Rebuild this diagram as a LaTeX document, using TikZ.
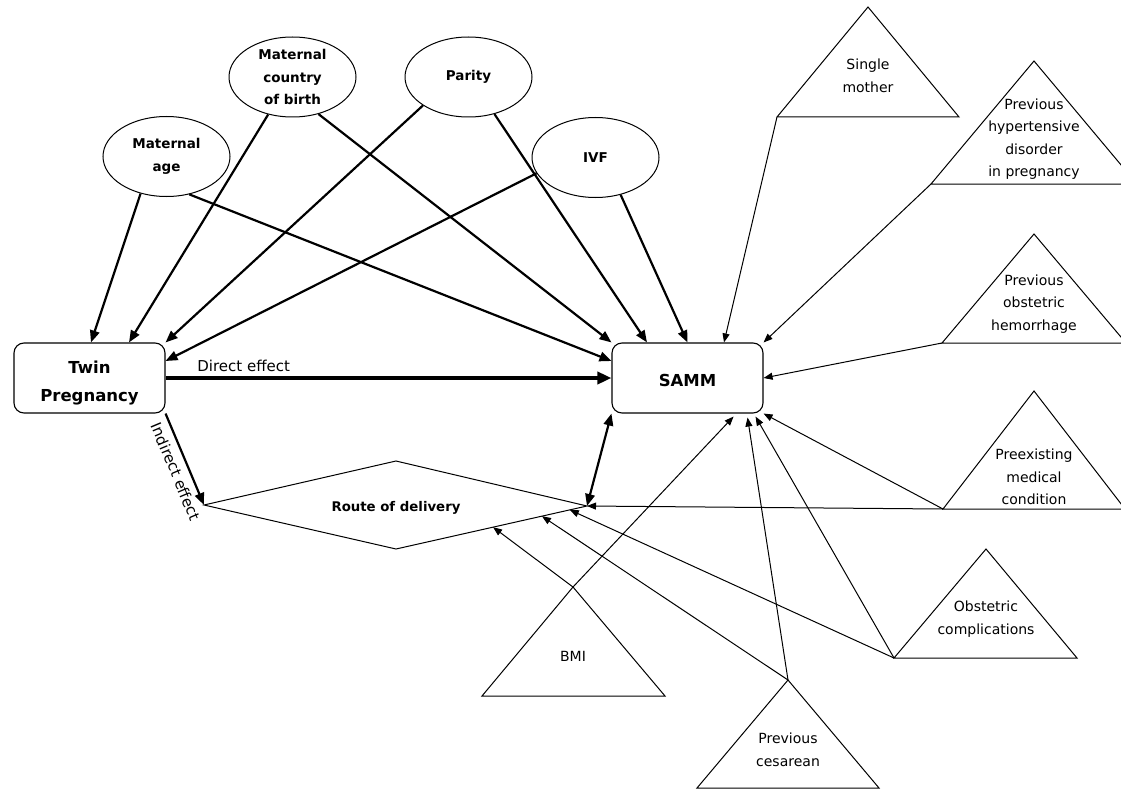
\documentclass[tikz,border=0pt]{standalone}
\usepackage{fontspec}
\setmainfont{DejaVu Sans}
\usetikzlibrary{shapes.geometric,arrows.meta,calc}
\begin{document}
\begin{tikzpicture}[x=1pt,y=-1pt,
  box/.style={draw, line width=1.1pt, rounded corners=10pt, minimum width=151pt, minimum height=70pt, inner sep=0pt},
  boxtext/.style={align=center, inner sep=0pt, font=\fontsize{16.5}{28}\selectfont\bfseries},
  ell/.style={draw, ellipse, line width=1pt, minimum width=127pt, minimum height=80pt, inner sep=0pt, align=center, font=\fontsize{13.5}{22.5}\selectfont\bfseries},
  tri/.style={draw, line width=1pt, line join=miter},
  tritext/.style={align=center, inner sep=0pt, font=\fontsize{14}{22.5}\selectfont},
  heavy/.style={line width=2.2pt, -{Triangle[length=12pt,width=9.5pt]}},
  both/.style={line width=2.2pt, {Triangle[length=12pt,width=9.5pt]}-{Triangle[length=12pt,width=9.5pt]}},
  light/.style={line width=1pt, -{Triangle[length=9pt,width=7pt]}},
  direct/.style={line width=4pt, -{Triangle[length=14pt,width=12pt]}},
]
\clip (0,0) rectangle (1121,789);

% ellipses
\node[ell] (ma) at (166.5,156.5) {Maternal\\age};
\node[ell] (mc) at (292.5,77) {Maternal\\country\\of birth};
\node[ell] (pa) at (468.5,77) {Parity};
\node[ell] (ivf) at (595.5,157.5) {IVF};

% boxes
\node[box] (tw) at (89.5,378) {};
\node[boxtext] (twt) at (89.5,383) {Twin\\Pregnancy};
\node[box] (sa) at (687.5,378) {};
\node[boxtext] (sat) at (687.5,380) {SAMM};

% route of delivery
\coordinate (rd-l) at (204,505);
\coordinate (rd-t) at (396,461);
\coordinate (rd-r) at (587,506);
\coordinate (rd-b) at (396,549);
\draw[tri] (rd-l) -- (rd-t) -- (rd-r) -- (rd-b) -- cycle;
\node[font=\fontsize{13.3}{16}\selectfont\bfseries] (rd) at (396,508) {Route of delivery};
\coordinate (rd-p1) at ($(rd-b)!0.508!(rd-r)$);
\coordinate (rd-p2) at ($(rd-b)!0.764!(rd-r)$);
\coordinate (rd-p3) at ($(rd-b)!0.91!(rd-r)$);

% triangles
\coordinate (sm-a) at (868,7); \coordinate (sm-l) at (777,117); \coordinate (sm-r) at (959,117);
\draw[tri] (sm-l) -- (sm-a) -- (sm-r) -- cycle;
\node[tritext] (sm) at (868,76) {Single\\mother};

\coordinate (hy-a) at (1034,61); \coordinate (hy-l) at (931,184); \coordinate (hy-r) at (1137,184);
\draw[tri] (hy-l) -- (hy-a) -- (hy-r) -- cycle;
\node[tritext] (hy) at (1034,139) {Previous\\hypertensive\\disorder\\in pregnancy};

\coordinate (he-a) at (1034,234); \coordinate (he-l) at (942,343); \coordinate (he-r) at (1126,343);
\draw[tri] (he-l) -- (he-a) -- (he-r) -- cycle;
\node[tritext] (he) at (1034,304) {Previous\\obstetric\\hemorrhage};

\coordinate (pm-a) at (1034,391); \coordinate (pm-l) at (943,509); \coordinate (pm-r) at (1125,509);
\draw[tri] (pm-l) -- (pm-a) -- (pm-r) -- cycle;
\node[tritext] (pm) at (1034,477) {Preexisting\\medical\\condition};

\coordinate (oc-a) at (986,549); \coordinate (oc-l) at (894,658); \coordinate (oc-r) at (1077,658);
\draw[tri] (oc-l) -- (oc-a) -- (oc-r) -- cycle;
\node[tritext] (oc) at (986,619) {Obstetric\\complications};

\coordinate (pc-a) at (788,680); \coordinate (pc-l) at (697,788); \coordinate (pc-r) at (879,788);
\draw[tri] (pc-l) -- (pc-a) -- (pc-r) -- cycle;
\node[tritext] (pc) at (788,750) {Previous\\cesarean};

\coordinate (bmi-a) at (573,587); \coordinate (bmi-l) at (482,696); \coordinate (bmi-r) at (665,696);
\draw[tri] (bmi-l) -- (bmi-a) -- (bmi-r) -- cycle;
\node[tritext] (bmi) at (573,656) {BMI};

% heavy connectors to Twin Pregnancy
\draw[heavy] (ma.235) -- ([xshift=1.5pt]tw.north);
\draw[heavy] (mc.237) -- ([xshift=39.5pt]tw.north);
\draw[heavy] (pa.212.5) -- (tw.north east);
\draw[heavy] (ivf.195) -- ([yshift=17pt]tw.east);

% heavy connectors to SAMM
\draw[heavy] (ma.301.6) -- ([yshift=17pt]sa.west);
\draw[heavy] (mc.305.6) -- (sa.north west);
\draw[heavy] (pa.305.8) -- ([xshift=-40.5pt]sa.north);
\draw[heavy] (ivf.304.4) -- (sa.north);

% direct and indirect effect
\draw[direct] (tw.east) -- node[pos=0.067, anchor=base west, yshift=7pt, inner sep=0pt, font=\fontsize{15}{18}\selectfont] (de) {Direct effect} (sa.west);
\draw[heavy] (tw.south east) -- node[sloped, below, pos=0.58, inner sep=6pt, font=\fontsize{15}{18}\selectfont] (ie) {Indirect effect} (rd-l);
\draw[both] (sa.south west) -- (rd-r);

% light connectors
\draw[light] (sm-l) -- ([xshift=36.5pt]sa.north);
\draw[light] (hy-l) -- (sa.north east);
\draw[light] (he-l) -- (sa.east);
\draw[light] (pm-l) -- (sa.south east);
\draw[light] (pm-l) -- (rd-r);
\draw[light] (oc-l) -- ([xshift=-8pt,yshift=-3pt]sa.south east);
\draw[light] (oc-l) -- (rd-p3);
\draw[light] (pc-a) -- ([xshift=-16pt,yshift=-4pt]sa.south east);
\draw[light] (pc-a) -- (rd-p2);
\draw[light] (bmi-a) -- ([xshift=-30pt,yshift=-3pt]sa.south east);
\draw[light] (bmi-a) -- (rd-p1);
\end{tikzpicture}
\end{document}
